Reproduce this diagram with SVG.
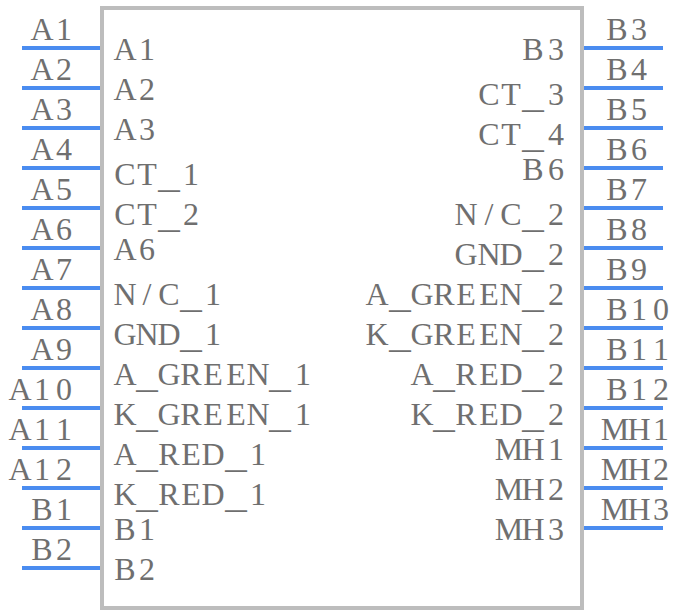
<svg xmlns="http://www.w3.org/2000/svg" width="684" height="612" viewBox="0 0 684 612">
<style>
text{font-family:"Liberation Serif","Times New Roman",serif;font-size:32px;text-anchor:middle;fill:#6e6e6e;opacity:.99}
.u{font-family:"Liberation Mono","Courier New",monospace;font-size:36.7px;baseline-shift:-3px}
.c line{stroke:#4a8cf0;stroke-width:4}
#body rect{fill:#fff;stroke:#bdbdbd;stroke-width:4}
</style>
<rect width="684" height="612" fill="#fff"/>
<g id="body"><rect x="102" y="8" width="480" height="600"/>
<text x="125 147" y="60">A1</text><text x="125 147" y="100">A2</text><text x="125 147" y="140">A3</text><text x="125 147 169 191" y="185">CT<tspan class="u">_</tspan>1</text><text x="125 147 169 191" y="225">CT<tspan class="u">_</tspan>2</text><text x="125 147" y="260">A6</text><text x="125 147 169 191 213" y="305">N/C<tspan class="u">_</tspan>1</text><text x="125 147 169 191 213" y="345">GND<tspan class="u">_</tspan>1</text><text x="125 147 169 191 213 236 258 280 303" y="385">A<tspan class="u">_</tspan>GREEN<tspan class="u">_</tspan>1</text><text x="125 147 169 191 213 236 258 280 303" y="425">K<tspan class="u">_</tspan>GREEN<tspan class="u">_</tspan>1</text><text x="125 147 169 191 213 236 258" y="465">A<tspan class="u">_</tspan>RED<tspan class="u">_</tspan>1</text><text x="125 147 169 191 213 236 258" y="505">K<tspan class="u">_</tspan>RED<tspan class="u">_</tspan>1</text><text x="125 147" y="540">B1</text><text x="125 147" y="580">B2</text>
<text x="533 556" y="60">B3</text><text x="489 511 533 556" y="105">CT<tspan class="u">_</tspan>3</text><text x="489 511 533 556" y="145">CT<tspan class="u">_</tspan>4</text><text x="533 556" y="180">B6</text><text x="466 489 511 533 556" y="225">N/C<tspan class="u">_</tspan>2</text><text x="466 489 511 533 556" y="265">GND<tspan class="u">_</tspan>2</text><text x="377 400 422 444 466 489 511 533 556" y="305">A<tspan class="u">_</tspan>GREEN<tspan class="u">_</tspan>2</text><text x="377 400 422 444 466 489 511 533 556" y="345">K<tspan class="u">_</tspan>GREEN<tspan class="u">_</tspan>2</text><text x="422 444 466 489 511 533 556" y="385">A<tspan class="u">_</tspan>RED<tspan class="u">_</tspan>2</text><text x="422 444 466 489 511 533 556" y="425">K<tspan class="u">_</tspan>RED<tspan class="u">_</tspan>2</text><text x="509 533 556" y="460">MH1</text><text x="509 533 556" y="500">MH2</text><text x="509 533 556" y="540">MH3</text></g>
<g id="connectors" class="c">
<line x1="22" x2="100" y1="48" y2="48"/><line x1="22" x2="100" y1="88" y2="88"/><line x1="22" x2="100" y1="128" y2="128"/><line x1="22" x2="100" y1="168" y2="168"/><line x1="22" x2="100" y1="208" y2="208"/><line x1="22" x2="100" y1="248" y2="248"/><line x1="22" x2="100" y1="288" y2="288"/><line x1="22" x2="100" y1="328" y2="328"/><line x1="22" x2="100" y1="368" y2="368"/><line x1="22" x2="100" y1="408" y2="408"/><line x1="22" x2="100" y1="448" y2="448"/><line x1="22" x2="100" y1="488" y2="488"/><line x1="22" x2="100" y1="528" y2="528"/><line x1="22" x2="100" y1="568" y2="568"/>
<line x1="584" x2="663" y1="48" y2="48"/><line x1="584" x2="663" y1="88" y2="88"/><line x1="584" x2="663" y1="128" y2="128"/><line x1="584" x2="663" y1="168" y2="168"/><line x1="584" x2="663" y1="208" y2="208"/><line x1="584" x2="663" y1="248" y2="248"/><line x1="584" x2="663" y1="288" y2="288"/><line x1="584" x2="663" y1="328" y2="328"/><line x1="584" x2="663" y1="368" y2="368"/><line x1="584" x2="663" y1="408" y2="408"/><line x1="584" x2="663" y1="448" y2="448"/><line x1="584" x2="663" y1="488" y2="488"/><line x1="584" x2="663" y1="528" y2="528"/>
</g>
<g id="pin-labels">
<text x="42 64" y="40">A1</text><text x="42 64" y="80">A2</text><text x="42 64" y="120">A3</text><text x="42 64" y="160">A4</text><text x="42 64" y="200">A5</text><text x="42 64" y="240">A6</text><text x="42 64" y="280">A7</text><text x="42 64" y="320">A8</text><text x="42 64" y="360">A9</text><text x="20 42 64" y="400">A10</text><text x="20 42 64" y="440">A11</text><text x="20 42 64" y="480">A12</text><text x="42 64" y="520">B1</text><text x="42 64" y="560">B2</text>
<text x="617 639" y="40">B3</text><text x="617 639" y="80">B4</text><text x="617 639" y="120">B5</text><text x="617 639" y="160">B6</text><text x="617 639" y="200">B7</text><text x="617 639" y="240">B8</text><text x="617 639" y="280">B9</text><text x="617 639 661" y="320">B10</text><text x="617 639 661" y="360">B11</text><text x="617 639 661" y="400">B12</text><text x="615 639 661" y="440">MH1</text><text x="615 639 661" y="480">MH2</text><text x="615 639 661" y="520">MH3</text>
</g>
</svg>
